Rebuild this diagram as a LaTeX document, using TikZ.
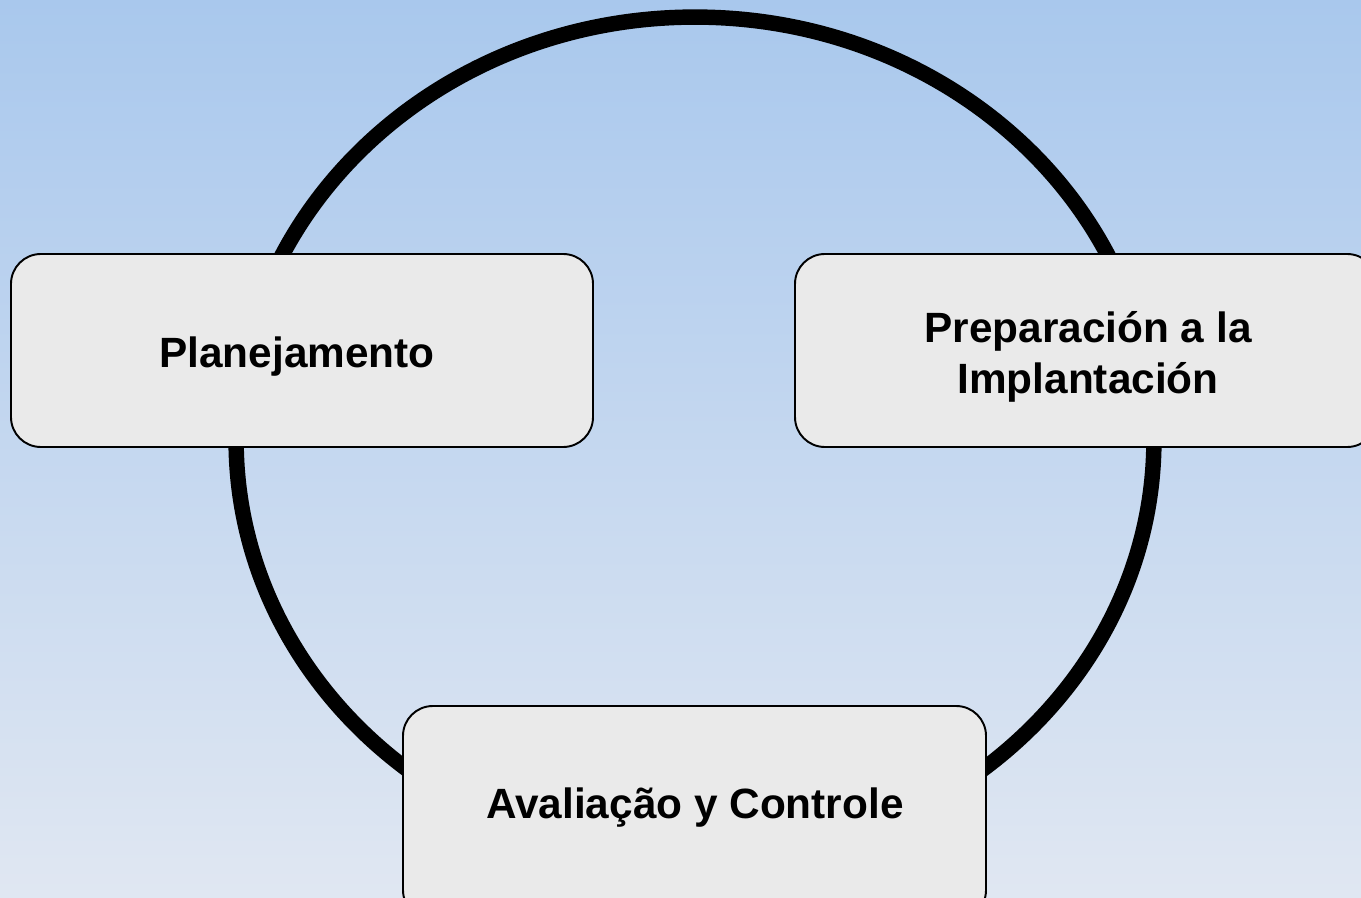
\documentclass[tikz,border=0pt]{standalone}
\usepackage{fontspec}
\setmainfont{Liberation Sans}
\definecolor{bgtop}{RGB}{169,200,237}
\definecolor{bgbot}{RGB}{224,231,242}
\definecolor{boxfill}{RGB}{234,234,234}
\tikzset{
  stagebox/.style={draw=black, line width=1.1pt, fill=boxfill, rounded corners=17pt},
  stagelabel/.style={font=\fontsize{24.1pt}{29pt}\selectfont\bfseries, inner sep=0pt, align=center, anchor=base},
  ring/.style={draw=black, line width=8.8pt}
}
\begin{document}
\begin{tikzpicture}[x=0.02cm, y=-0.02cm]
\useasboundingbox (0,0) rectangle (1361,898);
\shade[top color=bgtop, bottom color=bgbot] (0,0) rectangle (1361,898);
\draw[ring] (695,440) ellipse [x radius=9.18cm, y radius=8.46cm];
\draw[stagebox] (11,254) rectangle (593,447);
\draw[stagebox] (795,254) rectangle (1377,447);
\draw[stagebox] (403,706) rectangle (986,920);
\node[stagelabel] (plan) at (297,367) {Planejamento};
\node[stagelabel] (prep) at (1088,393) {Preparación a la\\Implantación};
\node[stagelabel] (aval) at (695,818) {Avaliação y Controle};
\end{tikzpicture}
\end{document}
